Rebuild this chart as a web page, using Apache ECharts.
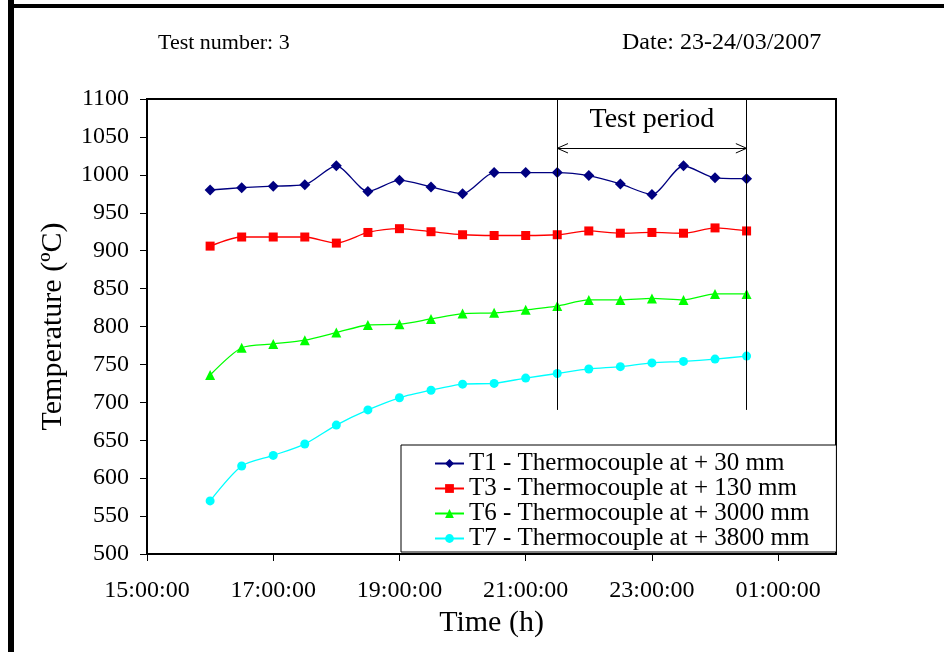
<!DOCTYPE html>
<html>
<head>
<meta charset="utf-8">
<script src="https://cdn.jsdelivr.net/npm/echarts@6/dist/echarts.min.js"></script>
<style>
  html, body { margin: 0; padding: 0; background: #fff; }
  #chart { width: 944px; height: 652px; }
</style>
</head>
<body>
<div id="chart"></div>
<script>
// Reading times (30 min steps, crossing midnight)
const times = ['16:00', '16:30', '17:00', '17:30', '18:00', '18:30', '19:00', '19:30', '20:00',
               '20:30', '21:00', '21:30', '22:00', '22:30', '23:00', '23:30', '00:00', '00:30'];

// Thermocouple temperatures (ºC)
const t1 = [980, 983, 985, 987, 1012, 978, 993, 984, 975, 1003, 1003, 1003, 999, 988, 974, 1012, 996, 995];
const t3 = [906, 918, 918, 918, 910, 924, 929, 925, 921, 920, 920, 921, 926, 923, 924, 923, 930, 926];
const t6 = [736, 772, 777, 782, 792, 802, 803, 810, 817, 818, 822, 827, 835, 835, 837, 835, 843, 843];
const t7 = [570, 616, 630, 645, 670, 690, 706, 716, 724, 725, 732, 738, 744, 747, 752, 754, 757, 761];

const seriesNames = [
  'T1 - Thermocouple at + 30 mm',
  'T3 - Thermocouple at + 130 mm',
  'T6 - Thermocouple at + 3000 mm',
  'T7 - Thermocouple at + 3800 mm'
];

// Axis ticks
const xTickLabels = ['15:00:00', '17:00:00', '19:00:00', '21:00:00', '23:00:00', '01:00:00'];
const xMin = '15:00';
const xMax = '01:55';   // axis end, just before 02:00
const yTicks = [500, 550, 600, 650, 700, 750, 800, 850, 900, 950, 1000, 1050, 1100];

// Test period annotation
const testPeriod = ['21:30', '00:30'];
const testPeriodLineBottom = 690;
const testPeriodArrowLevel = 1035;
const testPeriodLabelLevel = 1073;

// "HH:MM[:SS]" -> hours since start of the first day (times before noon roll into the next day)
function toHours(s) {
  const p = s.split(':').map(Number);
  let h = p[0] + (p[1] || 0) / 60 + (p[2] || 0) / 3600;
  if (h < 12) h += 24;
  return h;
}
function fmtHour(v) {
  const h = Math.round(v) % 24;
  return (h < 10 ? '0' : '') + h + ':00:00';
}

const FONT = "'Liberation Serif', 'Times New Roman', serif";
const xTicks = xTickLabels.map(toHours);
const tp0 = toHours(testPeriod[0]);
const tp1 = toHours(testPeriod[1]);
const headDx = 0.17, headDy = 6.2;

function mk(name, values, color, symbol, size) {
  return {
    name: name,
    type: 'line',
    data: times.map((t, i) => [toHours(t), values[i]]),
    smooth: 0.25,
    symbol: symbol,
    symbolSize: size,
    showAllSymbol: true,
    lineStyle: { color: color, width: 1.3 },
    itemStyle: { color: color, borderWidth: 0 },
    z: 3
  };
}

const chart = echarts.init(document.getElementById('chart'), null, { renderer: 'canvas' });

chart.setOption({
  animation: false,
  backgroundColor: '#fff',
  textStyle: { fontFamily: FONT },
  grid: {
    left: 147, top: 99, right: 108, bottom: 98,
    show: true, borderColor: '#000', borderWidth: 2, backgroundColor: '#fff'
  },
  xAxis: {
    type: 'value',
    min: toHours(xMin),
    max: toHours(xMax),
    name: 'Time (h)',
    nameLocation: 'middle',
    nameGap: 53,
    nameTextStyle: { fontFamily: FONT, fontSize: 30, color: '#000' },
    axisLine: { show: true, lineStyle: { color: '#000', width: 2 } },
    axisTick: { show: true, inside: false, length: 7, customValues: xTicks, lineStyle: { color: '#000', width: 1 } },
    axisLabel: { customValues: xTicks, formatter: fmtHour, margin: 25, fontFamily: FONT, fontSize: 24, color: '#000' },
    splitLine: { show: false }
  },
  yAxis: {
    type: 'value',
    min: yTicks[0],
    max: yTicks[yTicks.length - 1],
    interval: 50,
    name: 'Temperature (ºC)',
    nameLocation: 'middle',
    nameGap: 79,
    nameTextStyle: { fontFamily: FONT, fontSize: 30, color: '#000' },
    axisLine: { show: true, lineStyle: { color: '#000', width: 2 } },
    axisTick: { show: true, inside: false, length: 7, lineStyle: { color: '#000', width: 1 } },
    axisLabel: { margin: 18, formatter: v => String(v), fontFamily: FONT, fontSize: 24, color: '#000' },
    splitLine: { show: false }
  },
  legend: {
    orient: 'vertical',
    left: 401,
    top: 445,
    padding: [6, 27, 1, 33],
    itemWidth: 29,
    itemHeight: 11,
    itemGap: 0,
    backgroundColor: '#fff',
    borderColor: '#000',
    borderWidth: 1,
    textStyle: { fontFamily: FONT, fontSize: 25, lineHeight: 24.3, color: '#000' },
    data: seriesNames,
    z: 10
  },
  graphic: [
    { type: 'text', left: 158, top: 32, style: { text: 'Test number: 3', font: '22px ' + FONT, fill: '#000' } },
    { type: 'text', left: 622, top: 31, style: { text: 'Date: 23-24/03/2007', font: '24px ' + FONT, fill: '#000' } },
    // page frame (left and top edges)
    { type: 'line', shape: { x1: 11, y1: 0, x2: 11, y2: 652 }, style: { stroke: '#000', lineWidth: 6 } },
    { type: 'line', shape: { x1: 8, y1: 6, x2: 944, y2: 6 }, style: { stroke: '#000', lineWidth: 4 } }
  ],
  series: [
    mk(seriesNames[0], t1, '#000080', 'diamond', 11),
    mk(seriesNames[1], t3, '#FF0000', 'rect', 9),
    mk(seriesNames[2], t6, '#00FF00', 'triangle', 10),
    mk(seriesNames[3], t7, '#00FFFF', 'circle', 9),
    {
      name: 'test-period',
      type: 'line',
      data: [],
      silent: true,
      markLine: {
        silent: true,
        symbol: ['none', 'none'],
        label: { show: false },
        lineStyle: { color: '#000', width: 1, type: 'solid' },
        data: [
          [{ coord: [tp0, yTicks[yTicks.length - 1]] }, { coord: [tp0, testPeriodLineBottom] }],
          [{ coord: [tp1, yTicks[yTicks.length - 1]] }, { coord: [tp1, testPeriodLineBottom] }],
          [{ coord: [tp0, testPeriodArrowLevel] }, { coord: [tp1, testPeriodArrowLevel] }],
          [{ coord: [tp0 + headDx, testPeriodArrowLevel + headDy] }, { coord: [tp0, testPeriodArrowLevel] }],
          [{ coord: [tp0 + headDx, testPeriodArrowLevel - headDy] }, { coord: [tp0, testPeriodArrowLevel] }],
          [{ coord: [tp1 - headDx, testPeriodArrowLevel + headDy] }, { coord: [tp1, testPeriodArrowLevel] }],
          [{ coord: [tp1 - headDx, testPeriodArrowLevel - headDy] }, { coord: [tp1, testPeriodArrowLevel] }]
        ]
      },
      markPoint: {
        silent: true,
        symbol: 'circle',
        symbolSize: 1,
        itemStyle: { color: 'rgba(0,0,0,0)' },
        label: { show: true, position: 'inside', formatter: 'Test period', fontFamily: FONT, fontSize: 28, color: '#000' },
        data: [{ coord: [(tp0 + tp1) / 2, testPeriodLabelLevel] }]
      },
      z: 2
    }
  ]
});
</script>
</body>
</html>
